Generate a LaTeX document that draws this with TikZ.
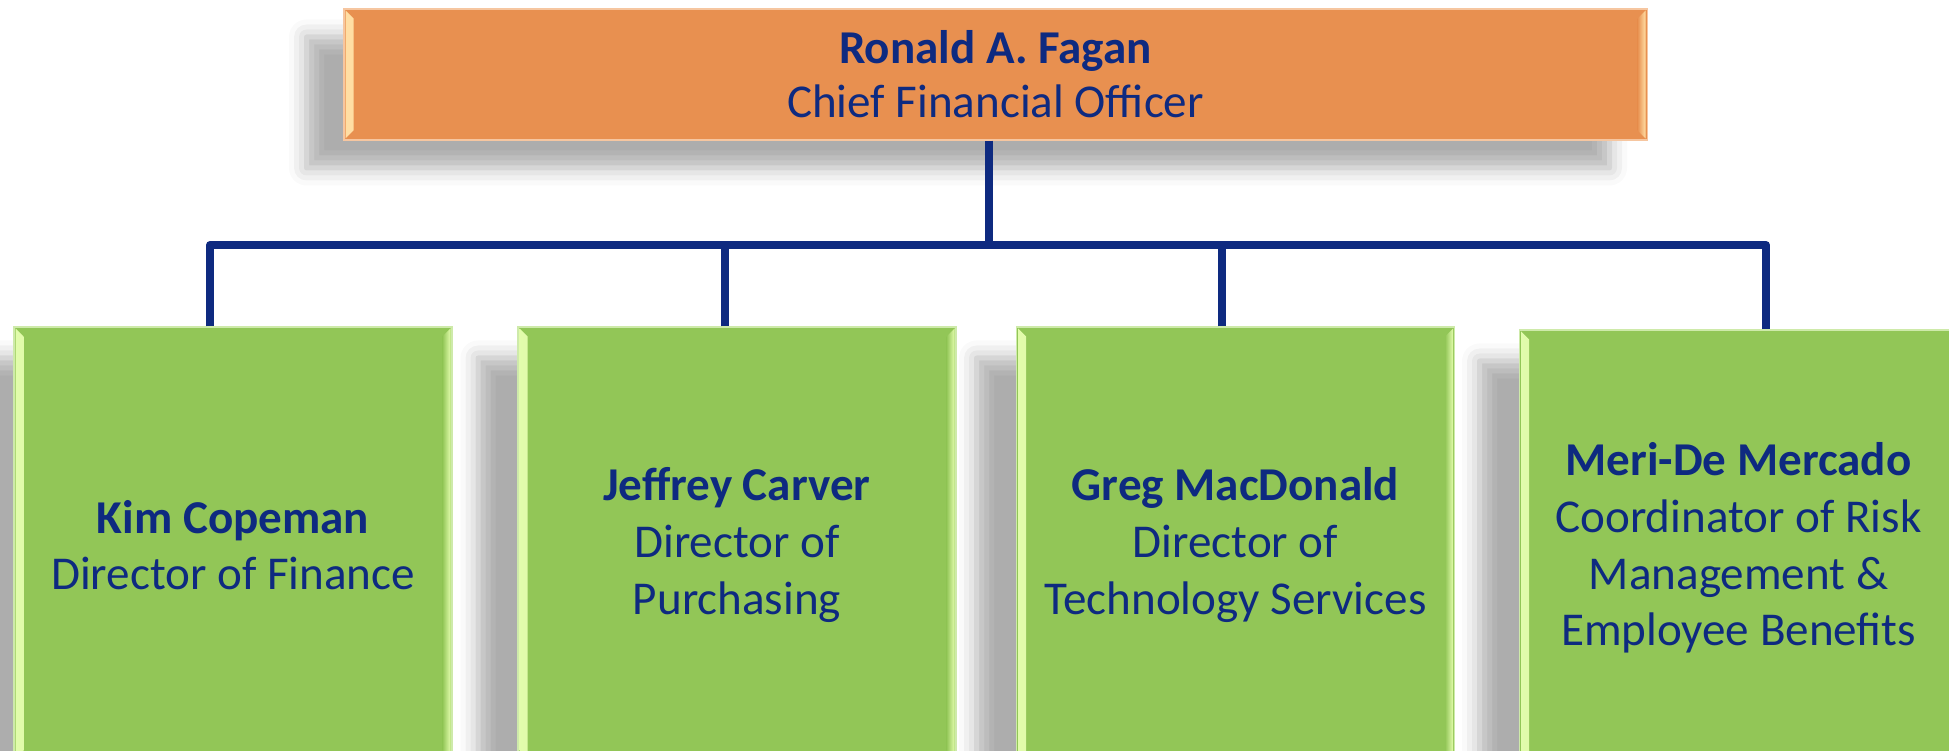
\documentclass[tikz,border=0pt]{standalone}
\usepackage{fontspec}
\setmainfont{Carlito}
\usetikzlibrary{shadows.blur}
\definecolor{cfoorange}{RGB}{232,144,80}
\definecolor{cfoedge}{RGB}{246,198,160}
\definecolor{cfobevel}{RGB}{255,222,164}
\definecolor{dirgreen}{RGB}{146,198,87}
\definecolor{diredge}{RGB}{206,234,170}
\definecolor{dirbevel}{RGB}{226,252,172}
\definecolor{navy}{RGB}{14,42,128}
\begin{document}
\begin{tikzpicture}
	\tikzset{
		bevel/.style 2 args={path picture={
			\fill [left color=#1,right color=#2]
				([shift={(0.03,-0.03)}]path picture bounding box.north west) -- ([shift={(0.19,-0.19)}]path picture bounding box.north west)
				-- ([shift={(0.19,0.19)}]path picture bounding box.south west) -- ([shift={(0.03,0.03)}]path picture bounding box.south west) -- cycle;
			\fill [left color=#2,right color=#1]
				([shift={(-0.03,-0.03)}]path picture bounding box.north east) -- ([shift={(-0.19,-0.19)}]path picture bounding box.north east)
				-- ([shift={(-0.19,0.19)}]path picture bounding box.south east) -- ([shift={(-0.03,0.03)}]path picture bounding box.south east) -- cycle;
		}},
		cfo box/.style={draw=cfoedge,line width=0.6pt,fill=cfoorange,minimum width=26.06cm,minimum height=2.62cm,
			bevel={cfobevel}{cfoorange},text=navy,align=center,font=\fontsize{26.8}{30.6}\selectfont,
			blur shadow={shadow xshift=-0.75cm,shadow yshift=-0.56cm,shadow blur radius=0.35cm,shadow opacity=32}},
		dir box/.style={draw=diredge,line width=0.6pt,fill=dirgreen,minimum width=8.76cm,minimum height=8.72cm,
			bevel={dirbevel}{dirgreen},text=navy,align=center,font=\fontsize{26.8}{32.2}\selectfont,
			blur shadow={shadow xshift=-0.8cm,shadow yshift=-0.62cm,shadow blur radius=0.35cm,shadow opacity=32}},
		link/.style={draw=navy,line width=0.16cm,line join=round}
	}
	\path [use as bounding box,clip] (0,0) rectangle (38.98,15.02);
	\node [cfo box]	(cfo)	at (19.91,13.53)	{\textbf{Ronald A. Fagan}\\Chief Financial Officer};
	\node [dir box]	(kim)	at (4.66,4.12)		{\textbf{Kim Copeman}\\Director of Finance};
	\node [dir box]	(jeff)	at (14.74,4.12)		{\textbf{Jeffrey Carver}\\Director of\\Purchasing};
	\node [dir box]	(greg)	at (24.71,4.12)		{\textbf{Greg MacDonald}\\Director of\\Technology Services};
	\node [dir box]	(meri)	at (34.77,4.06)		{\textbf{Meri-De Mercado}\\Coordinator of Risk\\Management \&\\Employee Benefits};
	\coordinate (bar) at (19.78,10.12);
	\draw [link] ([xshift=-0.13cm]cfo.south) -- (bar);
	\foreach \who/\dx in {kim/-0.46,jeff/-0.24,greg/-0.27,meri/0.55}
		\draw [link] ([xshift=\dx cm]\who.north) |- (bar);
\end{tikzpicture}
\end{document}
